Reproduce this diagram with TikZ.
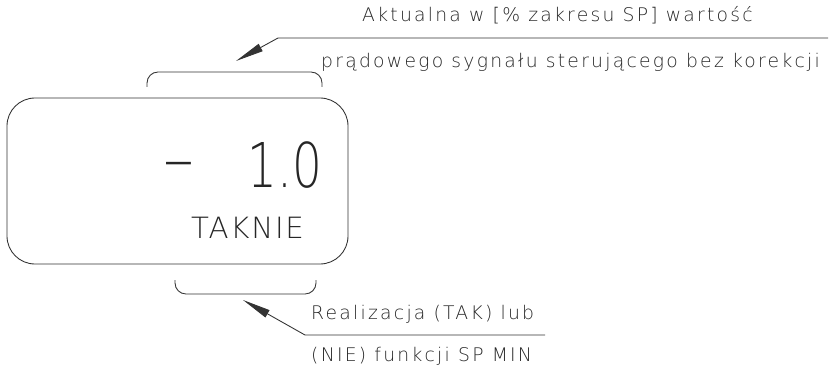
\documentclass[tikz,border=0pt]{standalone}
\usepackage{fontspec}
\setmainfont{DejaVu Sans}
\newfontfamily\cadfont[LetterSpace=12]{DejaVu Sans ExtraLight}
\newfontfamily\statefont[LetterSpace=6]{DejaVu Sans ExtraLight}
\newfontfamily\lcdfont[FakeStretch=0.76]{DejaVu Sans ExtraLight}
\newfontfamily\signfont{DejaVu Sans ExtraLight}
\usetikzlibrary{arrows.meta}

\begin{document}
\begin{tikzpicture}[
    x=0.03cm, y=-0.03cm,
    ink/.style={draw=black!80, line width=0.75pt},
    panel/.style={ink, rounded corners=0.84cm, minimum width=10.23cm,
                  minimum height=4.98cm, inner sep=0pt},
    bracket/.style={ink, rounded corners=0.33cm},
    leader/.style={ink, -{Triangle[length=24pt,width=7pt]}},
    note/.style={font=\cadfont\fontsize{16}{19}\selectfont, text=black!85,
                 inner sep=0pt, anchor=base west},
    lcd/.style={font=\lcdfont\fontsize{52.7}{60}\selectfont, text=black!85,
                inner sep=0pt, anchor=base west},
    sign/.style={font=\signfont\fontsize{52.7}{60}\selectfont, text=black!85,
                 inner sep=0pt, anchor=base west},
    state/.style={font=\statefont\fontsize{25}{30}\selectfont, text=black!85,
                  inner sep=0pt, anchor=base west}]

  \useasboundingbox (0,0) rectangle (837,366);

  % ---- display panel ----------------------------------------------------
  \node[panel] (disp) at (177.5,181) {};
  \node[sign]  (minus) at (163,180) {–};
  \node[lcd]   (value) at (247,187) {1.0};
  \node[state] (flag)  at (191,238) {TAKNIE};

  % ---- brackets over and under the fields -------------------------------
  \draw[bracket] (147,87) -- (147,72) -- (322,72) -- (322,87);
  \draw[bracket] (175,280) -- (175,294) -- (316,294) -- (316,280);

  % ---- upper note -------------------------------------------------------
  \node[note] (actual)  at (362,22) {Aktualna w [\% zakresu SP] wartość};
  \node[note] (current) at (321,68) {prądowego sygnału sterującego bez korekcji};
  \coordinate (topend)  at (828,38);
  \coordinate (topknee) at (278,38);
  \coordinate (toptip)  at (236,61);
  \draw[leader] (topend) -- (topknee) -- (toptip);

  % ---- lower note -------------------------------------------------------
  \node[note] (realis)  at (311,319) {Realizacja (TAK) lub};
  \node[note] (spmin)   at (311,361) {(NIE) funkcji SP MIN};
  \coordinate (botend)  at (545,335);
  \coordinate (botknee) at (305,335);
  \coordinate (bottip)  at (243,300);
  \draw[leader] (botend) -- (botknee) -- (bottip);
\end{tikzpicture}
\end{document}
